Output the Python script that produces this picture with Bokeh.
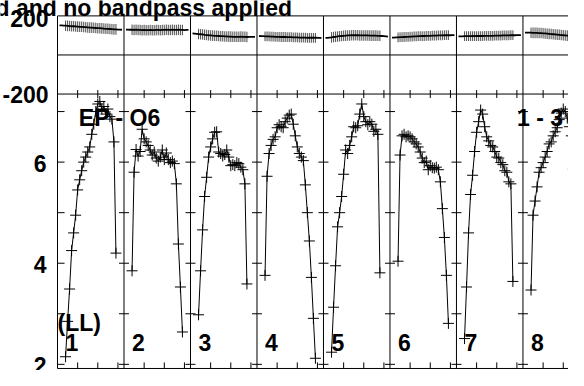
import math
from bokeh.plotting import figure
from bokeh.models import Range1d, Label
from bokeh.embed import file_html
from bokeh.resources import INLINE

# ---------------- data ----------------
if_labels = ["1", "2", "3", "4", "5", "6", "7", "8"]
n_chan = 32            # channels per IF
chan_block = 33        # channel units per IF block on the x axis
amp_first_chan = 4     # first channel with a plotted amplitude

amp_if1 = [2.15, 2.85, 3.49, 4.25, 4.6, 4.95, 5.45, 5.65, 5.83, 6.0, 6.1, 6.2, 6.3,
           6.55, 6.75, 7.0, 7.15, 7.2, 7.05, 7.1, 6.95, 7.05, 6.9, 6.85, 6.4, 4.2]
amp_if2 = [3.85, 5.8, 6.25, 6.12, 6.21, 6.65, 6.46, 6.4, 6.33, 6.24, 6.14, 6.2, 6.08,
           6.02, 6.1, 6.24, 6.05, 6.18, 6.05, 5.99, 6.02, 5.97, 5.57, 4.38, 3.53, 2.64]
amp_if3 = [2.98, 3.85, 4.66, 5.32, 5.7, 6.1, 6.3, 6.46, 6.59, 6.6, 6.2, 6.17, 6.12,
           6.15, 6.24, 6.1, 5.93, 5.95, 5.93, 5.99, 5.97, 5.9, 5.85, 5.57, 3.59]
amp_if4 = [3.76, 5.72, 6.17, 6.33, 6.45, 6.5, 6.68, 6.74, 6.7, 6.68, 6.8, 6.87, 6.93,
           6.95, 6.75, 6.52, 6.3, 6.17, 6.1, 6.03, 5.55, 5.0, 4.44, 3.72, 2.91, 2.12]
amp_if5 = [2.24, 3.13, 3.95, 4.72, 5.0, 5.32, 5.76, 6.24, 6.17, 6.33, 6.5, 6.7, 6.68,
           6.72, 6.95, 7.15, 6.9, 6.8, 6.74, 6.8, 6.75, 6.61, 6.65, 6.55, 3.81]
amp_if6 = [4.04, 6.14, 6.52, 6.55, 6.5, 6.52, 6.5, 6.46, 6.4, 6.36, 6.3, 6.2, 6.08,
           5.99, 6.02, 5.85, 5.93, 5.89, 5.88, 5.9, 5.85, 5.61, 5.08, 4.51, 3.76, 2.81]
amp_if7 = [2.51, 3.53, 4.6, 5.36, 5.74, 6.21, 6.59, 6.8, 7.03, 6.95, 6.7, 6.5, 6.42,
           6.33, 6.3, 6.21, 6.1, 6.08, 5.99, 5.95, 5.83, 5.8, 5.61, 5.57, 3.64]
amp_if8 = [3.47, 4.95, 5.23, 5.51, 5.8, 5.89, 5.99, 6.1, 6.21, 6.36, 6.4, 6.52, 6.6,
           6.68, 6.84, 6.97, 7.05, 7.0, 6.87, 6.7, 6.52, 5.86, 4.87, 3.9, 2.83]

phase_if1 = [152, 151, 150, 150, 149, 148, 147, 147, 146, 145, 144, 144, 143, 142, 141, 140,
             140, 139, 138, 137, 137, 136, 135, 134, 134, 133, 132, 131, 131, 130, 130, 129]
phase_if2 = [130, 130, 129, 129, 128, 129, 128, 128, 127, 128, 127, 127, 128, 127, 127, 128,
             128, 127, 128, 128, 129, 128, 128, 129, 128, 128, 129, 128, 128, 127, 128, 128]
phase_if3 = [110, 109, 108, 107, 106, 105, 103, 102, 101, 100, 99, 98, 98, 97, 96, 96,
             95, 95, 94, 94, 93, 93, 93, 93, 94, 93, 93, 92, 93, 93, 93, 93]
phase_if4 = [97, 96, 96, 95, 95, 95, 94, 94, 93, 93, 93, 92, 92, 92, 91, 91,
             91, 90, 90, 90, 89, 89, 89, 89, 88, 88, 88, 88, 88, 88, 87, 88]
phase_if5 = [87, 88, 89, 90, 92, 93, 95, 96, 97, 98, 99, 100, 100, 101, 101, 101,
             101, 100, 100, 100, 100, 100, 99, 99, 99, 99, 98, 98, 97, 96, 95, 94]
phase_if6 = [89, 89, 90, 90, 91, 91, 92, 93, 93, 94, 94, 95, 95, 96, 96, 97,
             97, 98, 98, 98, 99, 99, 99, 100, 100, 100, 101, 101, 101, 101, 102, 102]
phase_if7 = [95, 95, 95, 96, 96, 96, 96, 97, 96, 97, 97, 97, 97, 98, 98, 98,
             98, 98, 99, 99, 99, 99, 100, 100, 100, 100, 101, 101, 101, 102, 102, 102]
phase_if8 = [114, 114, 114, 114, 113, 113, 113, 112, 112, 111, 110, 109, 108, 107, 106, 105,
             104, 103, 102, 101, 100, 99, 98, 97, 96, 96, 95, 95, 94, 94, 93, 93]
phase_err = [27, 27, 27, 25, 27, 25, 25, 27]   # +/- degrees per IF

amp_all = [amp_if1, amp_if2, amp_if3, amp_if4, amp_if5, amp_if6, amp_if7, amp_if8]
phase_all = [phase_if1, phase_if2, phase_if3, phase_if4, phase_if5, phase_if6, phase_if7, phase_if8]

amp_ticks = [2, 3, 4, 5, 6, 7]
amp_labelled = [2, 4, 6]
amp_bottom = 1.918          # amplitude at the lower frame edge
phase_top = 200             # phase at the upper frame edge
phase_mid = 0
phase_bottom = -200
phase_labelled = [200, -200]
chan_ticks = [10, 20, 30]
baseline_text = "EP - O6"
stokes_text = "(LL)"
source_text = "1 - 3"
title_text = "d and no bandpass applied"

# ---------------- figure ----------------
FONT = "Liberation Sans"
FS = "23px"
x_lo, x_hi = -28.29, 253.6
amp_lo, amp_hi = 1.878, 9.197
ph_lo, ph_hi = -1615.2, 278.8

p = figure(width=568, height=370, x_range=Range1d(x_lo, x_hi), y_range=Range1d(amp_lo, amp_hi),
           output_backend="svg", toolbar_location=None,
           x_axis_location=None, y_axis_location=None, min_border=0)
p.extra_y_ranges = {"phase": Range1d(ph_lo, ph_hi)}
p.outline_line_color = None
p.xgrid.visible = False
p.ygrid.visible = False
p.background_fill_color = "white"
p.border_fill_color = "white"


def phase_to_amp(v):
    # position of a phase value on the shared vertical scale
    return amp_lo + (amp_hi - amp_lo) * ((v - ph_lo) / (ph_hi - ph_lo))


y_top = phase_to_amp(phase_top)
y_mid = phase_to_amp(phase_mid)
y_bnd = phase_to_amp(phase_bottom)
seps = [chan_block * b for b in range(1, len(if_labels))]
all_chan_ticks = [chan_block * b + t for b in range(len(if_labels)) for t in chan_ticks]

# frame: horizontal lines
hy = [y_top, y_mid, y_bnd, amp_bottom]
p.segment(x0=[0] * 4, y0=hy, x1=[x_hi] * 4, y1=hy, line_color="black", line_width=1)
# frame: left edge and IF separators
vx = [0] + seps
p.segment(x0=vx, y0=[amp_bottom] * len(vx), x1=vx, y1=[y_top] * len(vx),
          line_color="black", line_width=1)

# left axis ticks (inside)
tick_len_x = 3.5
p.segment(x0=[0] * len(amp_ticks), y0=amp_ticks, x1=[tick_len_x] * len(amp_ticks), y1=amp_ticks,
          line_color="black", line_width=1)
# separator ticks
sep_x = [s for s in seps for _ in amp_ticks]
sep_y = [a for _ in seps for a in amp_ticks]
p.scatter(x=sep_x, y=sep_y, marker="dash", size=10, line_color="black", line_width=1)
# ticks across the panel boundary
p.scatter(x=all_chan_ticks, y=[y_bnd] * len(all_chan_ticks), marker="dash", angle=math.pi / 2,
          size=8, line_color="black", line_width=1)
# bottom ticks (inside)
tick_len_y = 0.12
p.segment(x0=all_chan_ticks, y0=[amp_bottom] * len(all_chan_ticks), x1=all_chan_ticks,
          y1=[amp_bottom + tick_len_y] * len(all_chan_ticks), line_color="black", line_width=1)

# data
for b, (amps, phs, err) in enumerate(zip(amp_all, phase_all, phase_err)):
    base = chan_block * b
    ax = [base + amp_first_chan + i for i in range(len(amps))]
    p.line(ax, amps, line_color="black", line_width=1)
    p.scatter(ax, amps, marker="cross", size=11, line_color="black", line_width=1)

    px = [base + c for c in range(1, n_chan + 1)]
    bar_idx = [c - 1 for c in range(amp_first_chan, amp_first_chan + len(amps))]
    bx = [px[i] for i in bar_idx]
    by0 = [phs[i] - err for i in bar_idx]
    by1 = [phs[i] + err for i in bar_idx]
    p.segment(x0=bx, y0=by0, x1=bx, y1=by1, y_range_name="phase",
              line_color="#5a5a5a", line_width=1.1)
    p.line(px, phs, y_range_name="phase", line_color="black", line_width=1.8)


def lab(x, y, text, align="left", baseline="middle", yr="default", xoff=0, yoff=0):
    p.add_layout(Label(x=x, y=y, text=text, text_align=align, text_baseline=baseline,
                       y_range_name=yr, x_offset=xoff, y_offset=yoff,
                       text_font=FONT, text_font_style="bold",
                       text_font_size=FS, text_color="black"))


# tick labels
for a in amp_labelled:
    lab(0, a, str(a), align="right", xoff=-11, yoff=-1)
for v in phase_labelled:
    lab(0, v, str(v), align="right", yr="phase", xoff=-9, yoff=(-3 if v > 0 else 0))

# annotations
lab(10.6, 6.863, baseline_text)
lab(228.1, 6.863, source_text)
lab(0.0, 2.824, stokes_text)
for b, t in enumerate(if_labels):
    lab(chan_block * b + 4, 2.434, t)
lab(116.4, 239.4, title_text, align="right", baseline="alphabetic", yr="phase")

open("out.html", "w").write(file_html(p, INLINE))
